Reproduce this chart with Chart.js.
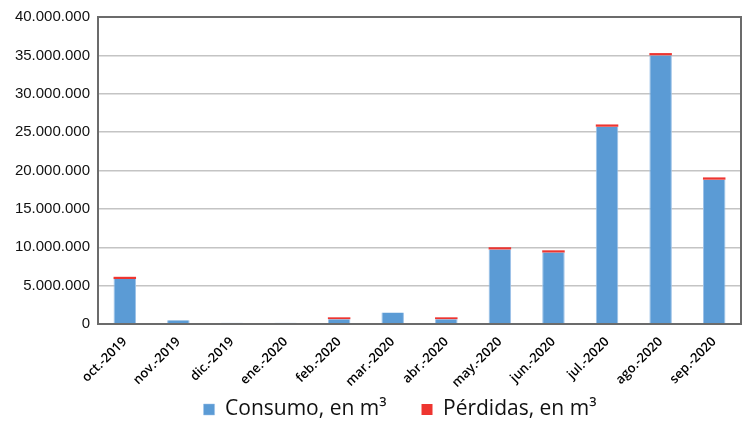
<!DOCTYPE html>
<html>
<head>
<meta charset="utf-8">
<script src="https://cdn.jsdelivr.net/npm/chart.js@4/dist/chart.umd.min.js"></script>
<style>
  html, body { margin: 0; padding: 0; background: #fff; }
  #wrap { width: 746px; height: 423px; }
</style>
</head>
<body>
<div id="wrap"><canvas id="grafico" width="746" height="423"></canvas></div>
<script>
const meses = ["oct.-2019", "nov.-2019", "dic.-2019", "ene.-2020", "feb.-2020", "mar.-2020",
  "abr.-2020", "may.-2020", "jun.-2020", "jul.-2020", "ago.-2020", "sep.-2020"];
const consumo = [5850000, 500000, 150000, 150000, 620000, 1500000, 620000, 9700000, 9300000, 25700000, 35000000, 18800000];
const perdidas = [300000, 0, 0, 0, 250000, 0, 250000, 300000, 300000, 300000, 300000, 300000];
const ticksY = [0, 5000000, 10000000, 15000000, 20000000, 25000000, 30000000, 35000000, 40000000];

const formatoMiles = (v) => String(v).replace(/\B(?=(\d{3})+(?!\d))/g, ".");

// marco completo alrededor del area de trazado
const marco = {
  id: "marco",
  afterDraw: (chart) => {
    const a = chart.chartArea;
    const ctx = chart.ctx;
    ctx.save();
    ctx.strokeStyle = "#6b6b6b";
    ctx.lineWidth = 2;
    ctx.strokeRect(a.left, a.top, a.right - a.left, a.bottom - a.top);
    ctx.restore();
  },
};

// la leyenda usa padding grande para separar los items; la bajamos a su sitio
const moverLeyenda = {
  id: "moverLeyenda",
  beforeDraw: (chart) => {
    const l = chart.legend;
    l.top = 364;
    l.bottom = 423;
    l.height = 59;
    l.left = 27;
    l.right = 773;
  },
};

const ctx = document.getElementById("grafico").getContext("2d");
const grafico = new Chart(ctx, {
  type: "bar",
  data: {
    labels: meses,
    datasets: [
      {
        label: "Consumo, en m³",
        data: consumo,
        backgroundColor: "#5b9bd5",
        borderColor: "#9cc2e8",
        borderWidth: { left: 1, right: 1, top: 0, bottom: 0 },
        borderSkipped: false,
        barPercentage: 0.42,
        categoryPercentage: 1,
      },
      {
        label: "Pérdidas, en m³",
        data: perdidas,
        backgroundColor: "#ee3530",
        borderWidth: 0,
        barPercentage: 0.42,
        categoryPercentage: 1,
      },
    ],
  },
  options: {
    responsive: false,
    animation: false,
    layout: { padding: { top: 9, right: 5, left: 0, bottom: 0 } },
    plugins: {
      tooltip: { enabled: false },
      legend: {
        position: "bottom",
        maxHeight: 30,
        labels: {
          font: { family: "'Open Sans'", size: 21 },
          color: "#111",
          boxWidth: 11,
          boxHeight: 11,
          padding: 35,
        },
      },
    },
    scales: {
      x: {
        stacked: true,
        grid: { display: false },
        border: { display: false },
        ticks: {
          maxRotation: 45,
          minRotation: 45,
          autoSkip: false,
          padding: 2,
          color: "#000",
          font: { family: "'Open Sans'", size: 13, weight: "600" },
        },
        afterFit: (scale) => { scale.height = 69; },
      },
      y: {
        stacked: true,
        min: 0,
        max: 40000000,
        afterBuildTicks: (scale) => { scale.ticks = ticksY.map((v) => ({ value: v })); },
        grid: { color: "#c4c4c4", lineWidth: 1.5, drawTicks: false },
        border: { display: false },
        ticks: {
          padding: 8,
          color: "#111",
          font: { family: "'Liberation Sans'", size: 15 },
          callback: (v) => formatoMiles(v),
        },
        afterFit: (scale) => { scale.width = 98; },
      },
    },
  },
  plugins: [marco, moverLeyenda],
});
</script>
</body>
</html>
